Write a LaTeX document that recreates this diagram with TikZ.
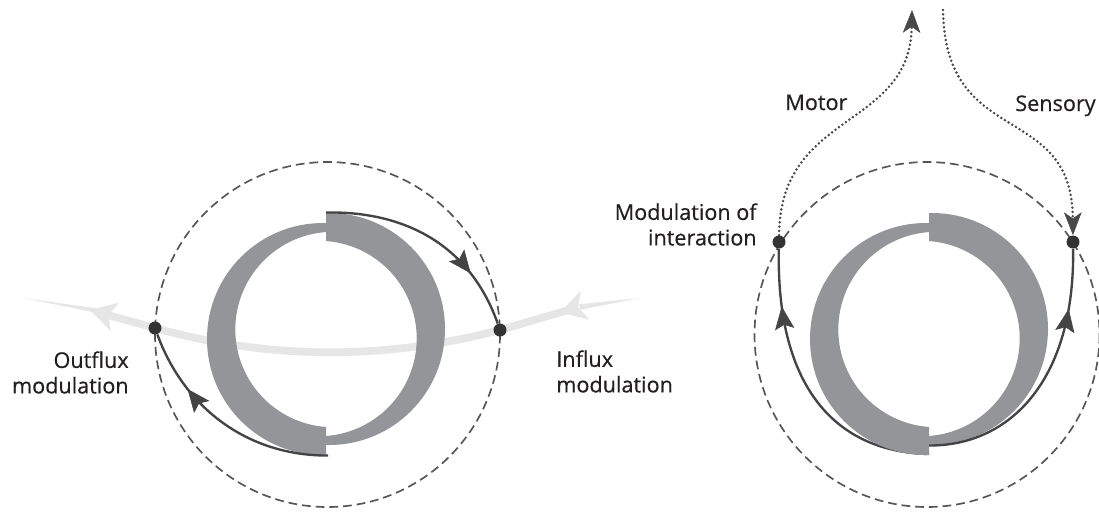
\documentclass[tikz,border=0pt]{standalone}
\usepackage{fontspec}
\setmainfont{Open Sans}
\newfontfamily\labelfont{Open Sans}[FakeBold=0.5]
\usetikzlibrary{arrows.meta,decorations.markings}

\definecolor{ringgray}{HTML}{939598}
\definecolor{darkline}{HTML}{444444}
\definecolor{dotfill}{HTML}{333333}
\definecolor{dashgray}{HTML}{555555}
\definecolor{dotgray}{HTML}{484848}
\definecolor{flowgray}{HTML}{E6E6E6}
\definecolor{inktext}{HTML}{231F20}

\begin{document}
\begin{tikzpicture}[x=0.02cm, y=-0.02cm,
  ringfill/.style={fill=ringgray, even odd rule},
  orbit/.style={draw=dashgray, line width=0.95pt, dash pattern=on 5pt off 2.8pt},
  flowband/.style={draw=flowgray, line width=4.4pt, line join=round},
  dotnode/.style={circle, fill=dotfill, inner sep=0pt, minimum size=13*0.02cm},
  feedback/.style={draw=darkline, line width=1.35pt, postaction={decorate},
    decoration={markings, mark=at position #1 with {\arrow{Stealth[length=13pt,width=11pt,inset=2.5pt,line width=0.3pt]}}}},
  pathway/.style={draw=dotgray, line width=1.6pt, line cap=round, dash pattern=on 0pt off 2.45pt,
    -{Stealth[length=13pt,width=10pt,inset=3.5pt,line width=0.3pt]}},
  lbl/.style={inner sep=0pt, text=inktext, font=\labelfont\fontsize{12.3}{14.5}\selectfont}
]
\useasboundingbox (0,0) rectangle (1099,512);

% ---------- light through-flow (left diagram) ----------
\coordinate (pL) at (155,328);
\coordinate (pR) at (500,330);
\coordinate (fR0) at (640,298);
\coordinate (fRtip) at (560,312.5);
\coordinate (fRnotch) at (578.2,307.2);
\coordinate (fL0) at (23,298);
\coordinate (fLtip) at (90,310);
\coordinate (fLnotch) at (108.3,315.1);
\draw[flowband] (fRnotch) -- (pR) .. controls (385,360) and (270,360) .. (pL) -- (fLnotch);
\fill[flowgray] (fRtip) -- (589.2,319.6) -- (fRnotch) -- (580.8,290.8) -- cycle;
\fill[flowgray] (fLtip) -- (119,302.6) -- (fLnotch) -- (111,331.4) -- cycle;
\fill[flowgray] (579,304.3) -- (fR0) -- (580.5,309.8) -- cycle;
\fill[flowgray] (96,308.2) -- (fL0) -- (96,312.6) -- cycle;

% ---------- dashed boundaries ----------
\draw[orbit] (327.5,334.5) circle[radius=172.5];
\draw[orbit] (927,334.5) circle[radius=172.5];

% ---------- modulation points ----------
\node[dotnode] (outL) at (pL) {};
\node[dotnode] (inR) at (pR) {};
\node[dotnode] (modL) at (779,242) {};
\node[dotnode] (modR) at (1073,242) {};

% curve running under the right ring
\coordinate (ringBotA) at (929,454);
\draw[feedback=0.8] (ringBotA) .. controls (830,452) and (776,380) .. (modL);

% ---------- rings: two tapering half-arcs ----------
\foreach \dx in {0,603} {
  \begin{scope}[shift={(\dx,0)}]
    \begin{scope}
      \clip (100,100) rectangle (326,560);
      \fill[ringfill] (323,339) circle[radius=116] (333,329.5) circle[radius=97.7];
    \end{scope}
    \begin{scope}
      \clip (326,100) rectangle (560,560);
      \fill[ringfill] (329,329) circle[radius=116] (319,338.5) circle[radius=97.7];
    \end{scope}
  \end{scope}
}

% ---------- feedback arcs ----------
\coordinate (ringTopL) at (326,212.5);
\coordinate (ringBotL) at (328,455.5);
\coordinate (ringBotB) at (929,445.5);
\draw[feedback=0.74] (ringTopL) .. controls (405,211) and (470,245) .. (inR);
\draw[feedback=0.72] (ringBotL) .. controls (250,456) and (185,410) .. (outL);
\draw[feedback=0.78] (ringBotB) .. controls (1010,446) and (1075,380) .. (modR);

% ---------- motor / sensory pathways ----------
\coordinate (motorEnd) at (912,10);
\coordinate (sensoryStart) at (943,10);
\draw[pathway] (modL) .. controls (780,110) and (910,130) .. (motorEnd);
\draw[pathway] (sensoryStart) .. controls (945,150) and (1072,100) .. (modR);

% ---------- labels ----------
\node[lbl, anchor=base west] (motor) at (785,110) {Motor};
\node[lbl, anchor=base west] (sensory) at (1015,111) {Sensory};
\node[lbl, align=right, anchor=north east] (modlab) at (757,203) {Modulation of\\interaction};
\node[lbl, align=right, anchor=north east] (outlab) at (129,351) {Outflux\\modulation};
\node[lbl, align=left, anchor=north west] (inlab) at (556,350) {Influx\\modulation};
\end{tikzpicture}
\end{document}
